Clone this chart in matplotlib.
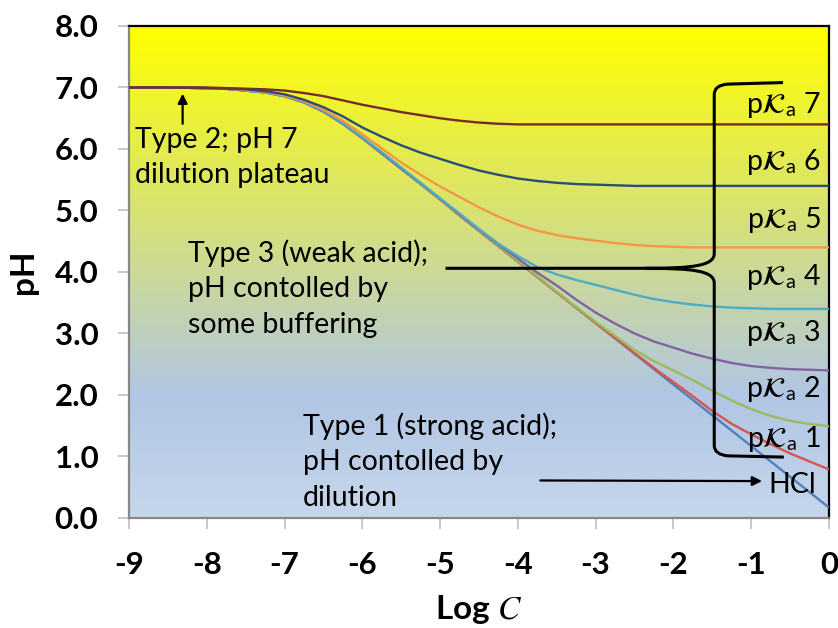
import numpy as np
import matplotlib
matplotlib.use('Agg')
import matplotlib.pyplot as plt
from matplotlib.colors import LinearSegmentedColormap
from matplotlib.path import Path
from matplotlib.patches import PathPatch

plt.rcParams['font.family'] = 'Lato'
plt.rcParams['mathtext.fontset'] = 'stix'
plt.rcParams['axes.unicode_minus'] = False

# pH at each log C
log_c = [-9, -8.5, -8, -7.75, -7.5, -7.25, -7, -6.75, -6.5, -6.25, -6, -5.75,
         -5.5, -5.25, -5, -4.75, -4.5, -4.25, -4, -3.75, -3.5, -3.25, -3,
         -2.75, -2.5, -2.25, -2, -1.75, -1.5, -1.25, -1, -0.75, -0.5, -0.25, 0]

ph_hcl = [7.00, 7.00, 6.99, 6.98, 6.95, 6.92, 6.86, 6.76, 6.61, 6.41, 6.18, 5.93,
          5.68, 5.43, 5.18, 4.92, 4.67, 4.42, 4.17, 3.92, 3.67, 3.42, 3.17,
          2.92, 2.67, 2.42, 2.17, 1.92, 1.67, 1.42, 1.17, 0.92, 0.67, 0.42, 0.17]
ph_pka1 = [7.00, 7.00, 6.99, 6.98, 6.95, 6.92, 6.86, 6.76, 6.61, 6.41, 6.18, 5.93,
           5.68, 5.43, 5.18, 4.92, 4.67, 4.42, 4.17, 3.92, 3.67, 3.42, 3.17,
           2.93, 2.68, 2.44, 2.21, 1.98, 1.74, 1.53, 1.36, 1.20, 1.05, 0.92, 0.79]
ph_pka2 = [7.00, 7.00, 6.99, 6.98, 6.95, 6.92, 6.86, 6.76, 6.61, 6.41, 6.18, 5.93,
           5.68, 5.43, 5.18, 4.93, 4.68, 4.43, 4.18, 3.93, 3.68, 3.43, 3.19,
           2.96, 2.73, 2.55, 2.40, 2.24, 2.07, 1.91, 1.77, 1.66, 1.58, 1.53, 1.49]
ph_pka3 = [7.00, 7.00, 6.99, 6.98, 6.95, 6.92, 6.86, 6.76, 6.61, 6.41, 6.18, 5.93,
           5.68, 5.44, 5.19, 4.94, 4.69, 4.45, 4.22, 3.99, 3.78, 3.55, 3.34,
           3.16, 3.00, 2.87, 2.77, 2.67, 2.59, 2.52, 2.47, 2.44, 2.42, 2.41, 2.40]
ph_pka4 = [7.00, 7.00, 6.99, 6.98, 6.95, 6.92, 6.86, 6.77, 6.62, 6.42, 6.19, 5.95,
           5.70, 5.45, 5.20, 4.95, 4.70, 4.46, 4.26, 4.08, 3.96, 3.87, 3.79,
           3.71, 3.63, 3.56, 3.51, 3.47, 3.44, 3.42, 3.41, 3.40, 3.40, 3.40, 3.40]
ph_pka5 = [7.00, 7.00, 6.99, 6.98, 6.96, 6.93, 6.87, 6.78, 6.64, 6.46, 6.24, 6.01,
           5.78, 5.58, 5.39, 5.22, 5.05, 4.90, 4.77, 4.67, 4.60, 4.55, 4.51,
           4.47, 4.44, 4.42, 4.41, 4.40, 4.40, 4.40, 4.40, 4.40, 4.40, 4.40, 4.40]
ph_pka6 = [7.00, 7.00, 6.99, 6.98, 6.97, 6.94, 6.89, 6.80, 6.68, 6.53, 6.35, 6.20,
           6.06, 5.94, 5.84, 5.74, 5.65, 5.58, 5.52, 5.48, 5.45, 5.43, 5.42,
           5.41, 5.40, 5.40, 5.40, 5.40, 5.40, 5.40, 5.40, 5.40, 5.40, 5.40, 5.40]
ph_pka7 = [7.00, 7.00, 7.00, 6.99, 6.98, 6.97, 6.95, 6.91, 6.86, 6.79, 6.72, 6.66,
           6.60, 6.55, 6.50, 6.46, 6.43, 6.41, 6.40, 6.40, 6.40, 6.40, 6.40,
           6.40, 6.40, 6.40, 6.40, 6.40, 6.40, 6.40, 6.40, 6.40, 6.40, 6.40, 6.40]

series = [ph_hcl, ph_pka1, ph_pka2, ph_pka3, ph_pka4, ph_pka5, ph_pka6, ph_pka7]
colors = ['#4F81BD', '#D9534F', '#9BBB59', '#8064A2', '#4BACC6', '#F79646',
          '#2C4D75', '#772C2A']
pka_names = ['1', '2', '3', '4', '5', '6', '7']
pka_label_y = [1.28, 2.09, 3.00, 3.92, 4.85, 5.79, 6.72]

x_ticks = [-9, -8, -7, -6, -5, -4, -3, -2, -1, 0]
y_ticks = [0, 1, 2, 3, 4, 5, 6, 7, 8]

fig = plt.figure(figsize=(8.38, 6.28), dpi=100)
ax = fig.add_axes([0.1539, 0.1752, 0.8353, 0.7834])

# background gradient, blue at the bottom to yellow at the top
grad = np.linspace(0, 1, 256).reshape(-1, 1)
cmap = LinearSegmentedColormap.from_list(
    'bg', [(0, '#C6D6EB'), (0.25, '#B1C6E4'), (1, '#FFFF00')])
ax.imshow(grad, extent=[-9, 0, 0, 8], origin='lower', aspect='auto',
          cmap=cmap, zorder=0)

for vals, c in zip(series, colors):
    ax.plot(log_c, vals, color=c, lw=1.7, zorder=3, solid_capstyle='butt')

ax.set_xlim(-9, 0)
ax.set_ylim(0, 8)
ax.set_xticks(x_ticks)
ax.set_xticklabels([str(t) for t in x_ticks], fontweight='bold')
ax.set_yticks(y_ticks)
ax.set_yticklabels(['%.1f' % t for t in y_ticks], fontweight='bold')
ax.tick_params(direction='out', length=8, width=1.2, color='#BFBFBF',
               labelsize=22.5)
ax.tick_params(axis='y', pad=14)
ax.tick_params(axis='x', pad=16)

for side in ['top', 'right']:
    ax.spines[side].set_color('black')
    ax.spines[side].set_linewidth(1.6)
for side in ['left', 'bottom']:
    ax.spines[side].set_color('#878787')
    ax.spines[side].set_linewidth(1.6)

ax.set_ylabel('pH', fontsize=24, fontweight='bold', labelpad=12)
ax.set_xlabel(r'Log $C$', fontsize=24, fontweight='bold', labelpad=10)

# annotations
tfs = 20.5
ax.text(-8.92, 5.86, 'Type 2; pH 7\ndilution plateau', fontsize=tfs,
        ha='left', va='center', linespacing=1.45, zorder=4)
ax.text(-8.24, 3.73, 'Type 3 (weak acid);\npH contolled by\nsome buffering',
        fontsize=tfs, ha='left', va='center', linespacing=1.45, zorder=4)
ax.text(-6.76, 0.92, 'Type 1 (strong acid);\npH contolled by\ndilution',
        fontsize=tfs, ha='left', va='center', linespacing=1.45, zorder=4)
ax.text(-0.78, 0.54, 'HCl', fontsize=tfs, ha='left', va='center', zorder=4)

for name, y in zip(pka_names, pka_label_y):
    ax.text(-0.58, y, r'p$\mathcal{K}_{\mathregular{a}}$ ' + name,
            fontsize=tfs, ha='center', va='center', zorder=4)

arrow = dict(arrowstyle='-|>', color='black', lw=1.6, mutation_scale=14,
             shrinkA=0, shrinkB=0)
ax.annotate('', xy=(-8.31, 6.90), xytext=(-8.31, 6.41), arrowprops=arrow,
            zorder=5)
ax.annotate('', xy=(-0.86, 0.60), xytext=(-3.71, 0.61), arrowprops=arrow,
            zorder=5)

# curly brace grouping the weak-acid curves
verts = [(-4.93, 4.06), (-2.36, 4.06),
         (-1.75, 4.06), (-1.475, 4.10), (-1.475, 4.30),
         (-1.475, 6.88),
         (-1.475, 7.04), (-1.30, 7.055),
         (-0.59, 7.08),
         (-2.36, 4.06),
         (-1.75, 4.06), (-1.475, 4.02), (-1.475, 3.82),
         (-1.475, 1.18),
         (-1.475, 1.03), (-1.30, 1.01),
         (-0.58, 0.99)]
codes = [Path.MOVETO, Path.LINETO,
         Path.CURVE4, Path.CURVE4, Path.CURVE4,
         Path.LINETO,
         Path.CURVE3, Path.CURVE3,
         Path.LINETO,
         Path.MOVETO,
         Path.CURVE4, Path.CURVE4, Path.CURVE4,
         Path.LINETO,
         Path.CURVE3, Path.CURVE3,
         Path.LINETO]
ax.add_patch(PathPatch(Path(verts, codes), fill=False, lw=2.2,
                       edgecolor='black', zorder=5))

fig.savefig('out.png', dpi=100)
